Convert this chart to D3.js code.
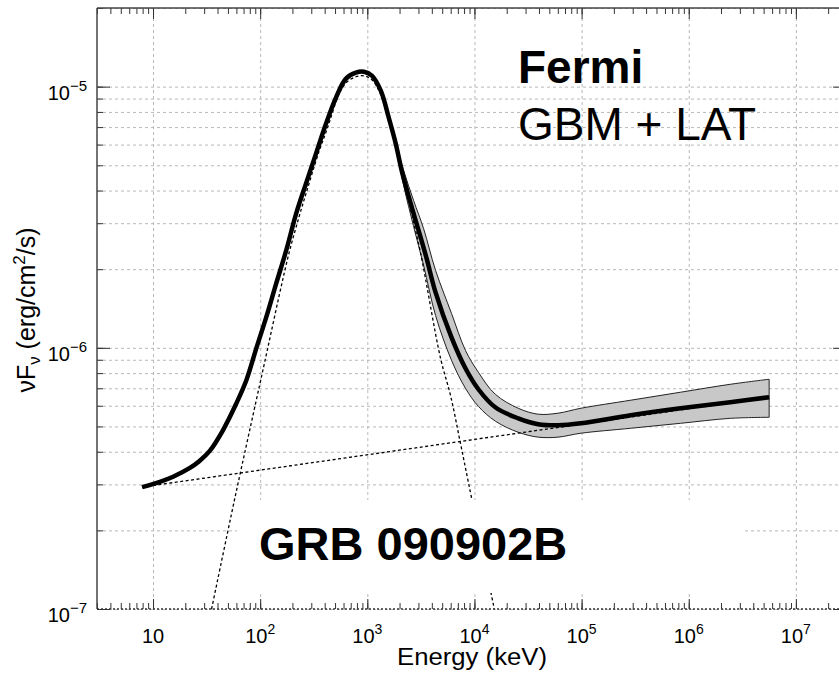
<!DOCTYPE html>
<html>
<head>
<meta charset="utf-8">
<script src="https://cdn.jsdelivr.net/npm/d3@7"></script>
<style>
  body { margin: 0; background: #fff; overflow: hidden; }
  svg { display: block; font-family: "Liberation Sans", Arial, Helvetica, sans-serif; }
  .grid line { stroke: #b8b8b8; stroke-dasharray: 3,3; }
  .grid path { display: none; }
  .ticks line { stroke: #333; }
  .ticks path { display: none; }
</style>
</head>
<body>
<svg id="chart" width="839" height="673"></svg>
<script>
// total model (Band + power law)
const totalE = [7.9, 11.6, 15.4, 21.9, 27.0, 33.7, 44.5, 60.0, 74.3, 92.0, 114, 141, 175, 217, 268, 332, 412, 510, 632, 782, 929, 1102,
  1336, 1585, 1842, 2094, 2539, 3013, 3575, 4335, 6106, 8238, 10880, 15650, 25600, 39300, 60300, 98600, 2.87e5, 8.38e5, 2.44e6, 5.63e6];
const totalF = [2.93e-7, 3.07e-7, 3.21e-7, 3.46e-7, 3.68e-7, 4.02e-7, 4.80e-7, 6.13e-7, 7.51e-7, 9.95e-7, 1.31e-6, 1.76e-6, 2.36e-6, 3.27e-6, 4.26e-6, 5.54e-6, 7.22e-6, 9.08e-6, 1.073e-5, 1.131e-5, 1.141e-5, 1.102e-5,
  9.65e-6, 7.61e-6, 6.05e-6, 4.77e-6, 3.57e-6, 2.81e-6, 2.20e-6, 1.63e-6, 1.097e-6, 8.35e-7, 6.94e-7, 5.92e-7, 5.37e-7, 5.10e-7, 5.05e-7, 5.14e-7, 5.52e-7, 5.87e-7, 6.19e-7, 6.47e-7];

// error band around the model
const bandE = [1765, 2185, 2707, 3353, 4335, 6106, 8238, 10880, 15650, 25600, 39300, 60300, 98600, 2.87e5, 8.38e5, 2.44e6, 5.63e6];
const bandHi = [6.50e-6, 4.77e-6, 3.66e-6, 2.86e-6, 1.98e-6, 1.355e-6, 9.78e-7, 8.06e-7, 6.64e-7, 5.87e-7, 5.57e-7, 5.62e-7, 5.87e-7, 6.30e-7, 6.76e-7, 7.25e-7, 7.58e-7];
const bandLo = [6.50e-6, 4.18e-6, 2.91e-6, 2.07e-6, 1.33e-6, 8.96e-7, 7.00e-7, 5.97e-7, 5.24e-7, 4.75e-7, 4.55e-7, 4.55e-7, 4.71e-7, 4.92e-7, 5.14e-7, 5.37e-7, 5.42e-7];

// Band component (dotted)
const compE = [35.2, 57.5, 92.0, 116.5, 150.6, 186.6, 231, 268, 354, 420, 544, 632, 782, 929, 1102, 1336, 1842, 2539, 3145, 4825, 5975, 7402, 9366, 15320];
const compF = [1e-7, 2.61e-7, 6.30e-7, 9.78e-7, 1.588e-6, 2.32e-6, 3.18e-6, 3.90e-6, 5.64e-6, 6.85e-6, 9.35e-6, 1.034e-5, 1.091e-5, 1.10e-5, 1.062e-5, 9.30e-6, 5.84e-6, 3.38e-6, 2.30e-6, 9.12e-7, 6.58e-7, 4.31e-7, 2.68e-7, 1e-7];

// power-law component (dotted)
const plE = [7.9, 5.63e6];
const plF = [2.93e-7, 6.47e-7];

// ticks
const xMajor = [10, 1e2, 1e3, 1e4, 1e5, 1e6, 1e7];
const xTickExp = ["", "2", "3", "4", "5", "6", "7"];
const yMajor = [1e-7, 1e-6, 1e-5];
const yTickExp = ["\u22127", "\u22126", "\u22125"];

const mLeft = 97, mRight = 847, mTop = 8, mBottom = 609;

const svg = d3.select("#chart");

const x = d3.scaleLog().domain([3, 3e7]).range([mLeft, mRight]);
const y = d3.scaleLog().domain([1e-7, 2e-5]).range([mBottom, mTop]);

svg.append("defs").append("clipPath").attr("id", "plot")
  .append("rect").attr("x", mLeft).attr("y", mTop).attr("width", mRight - mLeft).attr("height", mBottom - mTop);

//grid
svg.append("g").attr("class", "grid").attr("transform", `translate(${mLeft},0)`)
  .call(d3.axisLeft(y).tickValues(y.ticks()).tickSize(-(mRight - mLeft)).tickFormat(""));
svg.append("g").attr("class", "grid").attr("transform", `translate(0,${mBottom})`)
  .call(d3.axisBottom(x).tickValues(xMajor).tickSize(-(mBottom - mTop)).tickFormat(""));

const plot = svg.append("g").attr("clip-path", "url(#plot)");

//error band
const band = bandE.map((e, i) => ({ e, hi: bandHi[i], lo: bandLo[i] }));
plot.append("path")
  .datum(band)
  .attr("d", d3.area().x(d => x(d.e)).y0(d => y(d.lo)).y1(d => y(d.hi)).curve(d3.curveCatmullRom))
  .attr("fill", "#c8c8c8")
  .attr("stroke", "#222")
  .attr("stroke-width", 1);

//dotted components
const line = d3.line().x(d => x(d[0])).y(d => y(d[1]));
plot.append("path")
  .datum(plE.map((e, i) => [e, plF[i]]))
  .attr("d", line)
  .attr("fill", "none").attr("stroke", "#000").attr("stroke-width", 1.3).attr("stroke-dasharray", "3,2.5");
plot.append("path")
  .datum(compE.map((e, i) => [e, compF[i]]))
  .attr("d", line.curve(d3.curveCatmullRom))
  .attr("fill", "none").attr("stroke", "#000").attr("stroke-width", 1.3).attr("stroke-dasharray", "3,2.5");

//label box
svg.append("rect").attr("x", 237).attr("y", 500).attr("width", 508).attr("height", 93).attr("fill", "#fff");
svg.append("text").attr("x", 259).attr("y", 560).attr("font-size", 47).attr("font-weight", "bold").text("GRB 090902B");

//model curve
plot.append("path")
  .datum(totalE.map((e, i) => [e, totalF[i]]))
  .attr("d", d3.line().x(d => x(d[0])).y(d => y(d[1])).curve(d3.curveCatmullRom))
  .attr("fill", "none").attr("stroke", "#000").attr("stroke-width", 4.5).attr("stroke-linejoin", "round");

//axis ticks
const yMinor = y.ticks(), xMinor = x.ticks();
const tickSets = [
  [d3.axisLeft(y), `translate(${mLeft},0)`, yMinor, yMajor, 6, 13],
  [d3.axisRight(y), `translate(${mRight},0)`, yMinor, yMajor, 6, 14],
  [d3.axisTop(x), `translate(0,${mTop})`, xMinor, xMajor, 6, 11],
  [d3.axisBottom(x), `translate(0,${mBottom})`, xMinor, xMajor, 6, 10],
];
tickSets.forEach(([gen, tr, minor, major, sMin, sMaj]) => {
  svg.append("g").attr("class", "ticks").attr("transform", tr)
    .call(gen.tickValues(minor).tickSize(-sMin).tickSizeOuter(0).tickFormat(""));
  svg.append("g").attr("class", "ticks").attr("transform", tr)
    .call(gen.tickValues(major).tickSize(-sMaj).tickSizeOuter(0).tickFormat(""));
});

//frame
svg.append("line").attr("x1", mLeft).attr("x2", mLeft).attr("y1", mTop).attr("y2", mBottom)
  .attr("stroke", "#444").attr("stroke-width", 1.5);
svg.append("line").attr("x1", mLeft).attr("x2", mRight).attr("y1", mTop).attr("y2", mTop)
  .attr("stroke", "#444").attr("stroke-width", 1.5);
svg.append("line").attr("x1", mLeft).attr("x2", mRight).attr("y1", mBottom).attr("y2", mBottom)
  .attr("stroke", "#333").attr("stroke-width", 1.3).attr("stroke-dasharray", "2,2");

//tick labels
const xl = svg.append("g").selectAll("text").data(xMajor).join("text")
  .attr("x", d => x(d)).attr("y", 643).attr("text-anchor", "middle").attr("font-size", 20);
xl.append("tspan").text("10");
xl.append("tspan").attr("dy", -9).attr("font-size", 14).text((d, i) => xTickExp[i]);

const yl = svg.append("g").selectAll("text").data(yMajor).join("text")
  .attr("x", mLeft - 10).attr("y", d => y(d) + 13).attr("text-anchor", "end").attr("font-size", 20);
yl.append("tspan").text("10");
yl.append("tspan").attr("dy", -9).attr("font-size", 15).text((d, i) => yTickExp[i]);

//axis titles
svg.append("text").attr("x", 472).attr("y", 665).attr("text-anchor", "middle").attr("font-size", 23)
  .attr("textLength", 150).attr("lengthAdjust", "spacingAndGlyphs").text("Energy (keV)");

const yt = svg.append("text").attr("transform", "translate(35,310) rotate(-90)")
  .attr("text-anchor", "middle").attr("font-size", 25);
yt.append("tspan").text("\u03BDF");
yt.append("tspan").attr("dy", 5).attr("font-size", 17).text("\u03BD");
yt.append("tspan").attr("dy", -5).text(" (erg/cm");
yt.append("tspan").attr("dy", -10).attr("font-size", 17).text("2");
yt.append("tspan").attr("dy", 10).text("/s)");

//annotation
svg.append("text").attr("x", 518).attr("y", 83).attr("font-size", 46).attr("font-weight", "bold").text("Fermi");
svg.append("text").attr("x", 518).attr("y", 140).attr("font-size", 46).text("GBM + LAT");
</script>
</body>
</html>
